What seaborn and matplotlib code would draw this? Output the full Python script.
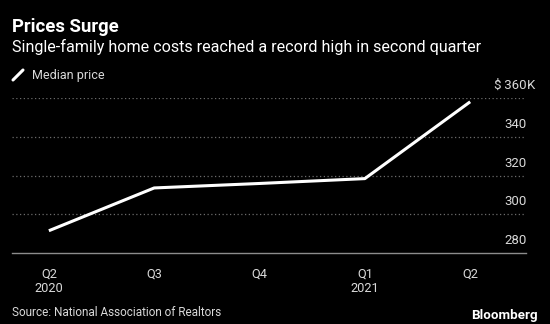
import matplotlib
matplotlib.use("Agg")
import matplotlib.pyplot as plt
from matplotlib.lines import Line2D
from matplotlib.font_manager import fontManager
import matplotlib.transforms as mtransforms
import seaborn as sns
import pandas as pd

# ---- data ----
quarters = ["Q2", "Q3", "Q4", "Q1", "Q2"]
years = ["2020", "", "", "2021", ""]
median_price = [291.6, 313.6, 315.9, 318.4, 357.9]   # $K
yticks = [280, 300, 320, 340, 360]

names = {f.name for f in fontManager.ttflist}
FONT = "Liberation Sans Narrow" if "Liberation Sans Narrow" in names else "Roboto"

sns.set_theme(style="dark")
plt.rcParams["font.family"] = [FONT, "DejaVu Sans"]

BG = "#000000"
GRID = "#6b6b6b"
TXT = "#d9d9d9"

df = pd.DataFrame({"pos": range(len(quarters)), "price": median_price})

fig = plt.figure(figsize=(5.5, 3.24), dpi=100, facecolor=BG)
W, H = 550, 324
ax = fig.add_axes([12 / W, 1 - 253.3 / H, (526 - 12) / W, (253.3 - 97.7) / H])
ax.set_facecolor(BG)

sns.lineplot(data=df, x="pos", y="price", ax=ax, color="white", linewidth=2.2,
             solid_capstyle="butt", clip_on=False)

ax.set_ylim(yticks[0], yticks[-1])
ax.set_xlim(-0.35, len(quarters) - 1 + 0.53)

for v in yticks[1:]:
    ax.axhline(v, color=GRID, lw=0.9, ls=(0, (1, 2)), zorder=0)

for s in ["top", "right", "left"]:
    ax.spines[s].set_visible(False)
ax.spines["bottom"].set_color("#8c8c8c")
ax.spines["bottom"].set_linewidth(1.0)
ax.grid(False)

ax.set_xticks(range(len(quarters)))
ax.set_xticklabels([q + ("\n" + y if y else "") for q, y in zip(quarters, years)],
                   color=TXT, fontsize=9.2, linespacing=1.15)
ax.tick_params(axis="x", length=4, width=1, color="#8c8c8c", pad=6, direction="out")
ax.set_yticks([])
ax.set_xlabel("")
ax.set_ylabel("")

trans = mtransforms.blended_transform_factory(ax.transAxes, ax.transData)
off = mtransforms.offset_copy(trans, fig=fig, x=1, y=6, units="dots")
for v in yticks:
    lab = f"$\u2009{v}" if v == yticks[-1] else f"{v}"
    ax.text(1.0, v, lab, transform=off, ha="right", va="bottom",
            color=TXT, fontsize=9.5, clip_on=False)
    if v == yticks[-1]:
        ax.text(1.0, v, "K", transform=off, ha="left", va="bottom",
                color=TXT, fontsize=9.5, clip_on=False)

fig.text(12 / W, 1 - 27 / H, "Prices Surge", color="white", fontsize=13.3,
         fontweight="bold", va="center", ha="left")
fig.text(12 / W, 1 - 46.5 / H, "Single-family home costs reached a record high in second quarter",
         color="white", fontsize=11.6, va="center", ha="left")

fig.add_artist(Line2D([13 / W, 23 / W], [1 - 80 / H, 1 - 70 / H], color="white",
                      lw=2.2, transform=fig.transFigure))
fig.text(32 / W, 1 - 75 / H, "Median price", color=TXT, fontsize=9.0,
         va="center", ha="left")

fig.text(12 / W, 1 - 312 / H, "Source: National Association of Realtors",
         color=TXT, fontsize=8.5, va="center", ha="left")
fig.text(538 / W, 1 - 316 / H, "Bloomberg", color="white", fontsize=9.6,
         fontweight="bold", va="center", ha="right")

fig.savefig("out.png", dpi=100, facecolor=BG)
